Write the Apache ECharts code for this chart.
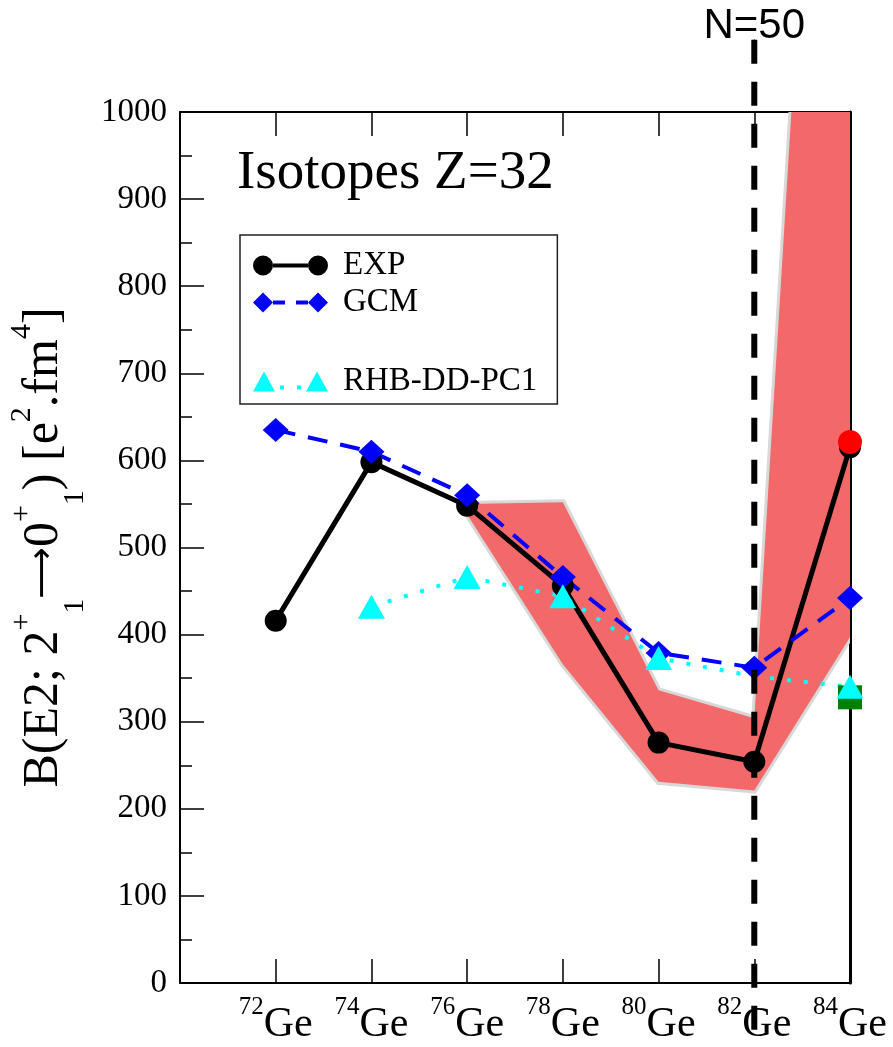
<!DOCTYPE html>
<html><head><meta charset="utf-8">
<script src="https://cdn.jsdelivr.net/npm/echarts@6/dist/echarts.min.js"></script>
<style>html,body{margin:0;padding:0;background:#fff}#c{width:893px;height:1047px}</style>
</head><body><div id="c"></div>
<script>
// ---- data ----
const massNumbers = [72, 74, 76, 78, 80, 82, 84];
const element = 'Ge';
const expValues = [416, 598, 548, 456, 276, 254, 615];
const gcmValues = [635, 610, 560, 466, 379, 362, 442];
const rhbX = [74, 76, 78, 80, 82, 84];
const rhbValues = [432, 466, 444, 373, 352, 340];
const rhbMarked = [true, true, true, true, false, true];
const bandX = [76, 78, 80, 82, 84];
const bandUpper = [550, 552, 336, 304, 2100];
const bandLower = [538, 366, 231, 221, 397];
const redPoint = [[84, 621]];
const greenPoint = [[84, 328]];
const shellClosureX = 82;
const shellClosureLabel = 'N=50';
const yTickValues = [0, 100, 200, 300, 400, 500, 600, 700, 800, 900, 1000];
const seriesNames = ['EXP', 'GCM', 'RHB-DD-PC1'];

const serif = 'Liberation Serif';
const chart = echarts.init(document.getElementById('c'), null, {renderer: 'canvas'});

const iconEXP = 'path://M0 10A10 10 0 1 1 20 10A10 10 0 1 1 0 10ZM55 10A10 10 0 1 1 75 10A10 10 0 1 1 55 10ZM20 8L55 8L55 12L20 12Z';
const iconGCM = 'path://M0 10L10 0L20 10L10 20ZM55 10L65 0L75 10L65 20ZM20 8L32 8L32 12L20 12ZM43 8L55 8L55 12L43 12Z';
const iconRHB = 'path://M11 0L22 20L0 20ZM64 0L75 20L53 20ZM27 14L31 14L31 18L27 18ZM44 14L48 14L48 18L44 18Z';

const legendText = {fontFamily: serif, fontSize: 33, color: '#000', padding: [0, 0, 0, 10]};

const xAxisBase = {
  type: 'value', min: 70, max: 84, interval: 2,
  axisLine: {show: true, onZero: false, lineStyle: {color: '#000', width: 2}},
  axisTick: {show: true, inside: true, length: 24, lineStyle: {color: '#000', width: 1.5}},
  splitLine: {show: false}
};

const option = {
  animation: false,
  backgroundColor: '#fff',
  title: {
    text: 'Isotopes Z=32', left: 237, top: 146, padding: 0,
    textStyle: {fontFamily: serif, fontSize: 55, fontWeight: 'normal', color: '#000'}
  },
  grid: {left: 180, right: 43, top: 112, bottom: 64, containLabel: false, outerBoundsMode: 'none'},
  legend: [
    {
      data: [{name: seriesNames[0], icon: iconEXP}, {name: seriesNames[1], icon: iconGCM}],
      orient: 'vertical', left: 240, top: 235, padding: [14, 0, 0, 13],
      itemGap: 4, itemWidth: 75, itemHeight: 20, selectedMode: false,
      textStyle: legendText, itemStyle: {borderWidth: 0}
    },
    {
      data: [{name: seriesNames[2], icon: iconRHB}],
      orient: 'vertical', left: 240, top: 235, padding: [130, 20, 6, 13],
      itemWidth: 75, itemHeight: 20, selectedMode: false,
      borderColor: '#222', borderWidth: 1.5,
      textStyle: legendText, itemStyle: {borderWidth: 0}
    }
  ],
  xAxis: [
    Object.assign({}, xAxisBase, {
      position: 'bottom',
      axisLabel: {
        margin: 21, color: '#000',
        formatter: v => massNumbers.includes(v) ? '{s|' + v + '}{g|' + element + '}' : '',
        rich: {
          s: {fontFamily: serif, fontSize: 25, lineHeight: 25, padding: [0, 0, 36, 0], verticalAlign: 'middle', color: '#000'},
          g: {fontFamily: serif, fontSize: 42, lineHeight: 42, verticalAlign: 'middle', color: '#000'}
        }
      }
    }),
    Object.assign({}, xAxisBase, {position: 'top', axisLabel: {show: false}})
  ],
  yAxis: [
    {
      type: 'value', min: yTickValues[0], max: yTickValues[yTickValues.length - 1], interval: yTickValues[1] - yTickValues[0],
      position: 'left',
      axisLine: {show: true, onZero: false, lineStyle: {color: '#000', width: 2}},
      axisTick: {show: true, inside: true, length: 24, lineStyle: {color: '#000', width: 1.5}},
      minorTick: {show: true, splitNumber: 2, length: 12, lineStyle: {color: '#000', width: 1.5}},
      splitLine: {show: false}, minorSplitLine: {show: false},
      axisLabel: {fontFamily: serif, fontSize: 33, color: '#000', margin: 13, formatter: v => String(v)},
      name: '{m|B(E2; 2}{sp|+}{sb|1}{ar|\u27F6}{m|0}{sp|+}{sb|1}{m|) [e}{sp|2}{m|.fm}{sp|4}{m|]}',
      nameLocation: 'middle', nameRotate: 90, nameGap: 73,
      nameTextStyle: {
        color: '#000',
        rich: {
          m: {fontFamily: serif, fontSize: 50, lineHeight: 50, verticalAlign: 'middle', color: '#000'},
          ar: {fontFamily: 'DejaVu Sans', fontSize: 36, lineHeight: 50, verticalAlign: 'middle', color: '#000'},
          sp: {fontFamily: serif, fontSize: 30, lineHeight: 30, padding: [0, 0, 44, 0], verticalAlign: 'middle', color: '#000'},
          sb: {fontFamily: serif, fontSize: 30, lineHeight: 30, padding: [62, 0, 0, 0], verticalAlign: 'middle', color: '#000'}
        }
      }
    },
    {
      type: 'value', min: 0, max: 1000, position: 'right',
      axisLine: {show: true, onZero: false, lineStyle: {color: '#000', width: 3}},
      axisTick: {show: false}, axisLabel: {show: false}, splitLine: {show: false}
    }
  ],
  series: [
    {
      type: 'custom', name: 'band', clip: true, silent: true, z: 1,
      data: bandX.map((x, i) => [x, bandLower[i], bandUpper[i]]),
      encode: {x: 0, y: [1, 2]},
      renderItem: (params, api) => {
        if (params.dataIndex !== 0) return;
        const up = bandX.map((x, i) => api.coord([x, bandUpper[i]]));
        const lo = bandX.map((x, i) => api.coord([x, bandLower[i]])).reverse();
        const pts = up.concat(lo);
        return {
          type: 'group', children: [
            {type: 'polygon', shape: {points: pts}, style: {fill: 'none', stroke: '#d8d8d8', lineWidth: 6, lineJoin: 'miter'}},
            {type: 'polygon', shape: {points: pts}, style: {fill: '#f36868'}}
          ]
        };
      }
    },
    {
      type: 'line', name: seriesNames[0],
      data: massNumbers.map((x, i) => [x, expValues[i]]),
      symbol: 'circle', symbolSize: 22,
      itemStyle: {color: '#000'}, lineStyle: {color: '#000', width: 5}
    },
    {
      type: 'line', name: 'red', data: redPoint, symbol: 'circle', symbolSize: 24,
      itemStyle: {color: '#ff0000'}, lineStyle: {width: 0}
    },
    {
      type: 'line', name: 'green', data: greenPoint, symbol: 'rect', symbolSize: 24,
      itemStyle: {color: '#008000'}, lineStyle: {width: 0}
    },
    {
      type: 'line', name: seriesNames[1],
      data: massNumbers.map((x, i) => [x, gcmValues[i]]),
      symbol: 'diamond', symbolSize: [26, 24],
      itemStyle: {color: '#0000ff'}, lineStyle: {color: '#0000ff', width: 4, type: [20, 13]}
    },
    {
      type: 'line', name: seriesNames[2],
      data: rhbX.map((x, i) => rhbMarked[i] ? [x, rhbValues[i]] : {value: [x, rhbValues[i]], symbol: 'none'}),
      symbol: 'triangle', symbolSize: [27, 24],
      itemStyle: {color: '#00ffff'}, lineStyle: {color: '#00ffff', width: 4, type: [4, 13]}
    },
    {
      type: 'line', name: 'shell', clip: false, silent: true, z: 5,
      data: [
        {value: [shellClosureX, 1083], symbol: 'circle', symbolSize: 1,
         label: {show: true, position: 'top', distance: -8, formatter: shellClosureLabel,
                 fontFamily: 'Liberation Sans', fontSize: 42, color: '#000'}},
        {value: [shellClosureX, -68], symbol: 'none'}
      ],
      itemStyle: {color: '#000'},
      lineStyle: {color: '#000', width: 6, type: [24, 18]}
    }
  ]
};
chart.setOption(option);
</script>
</body></html>
